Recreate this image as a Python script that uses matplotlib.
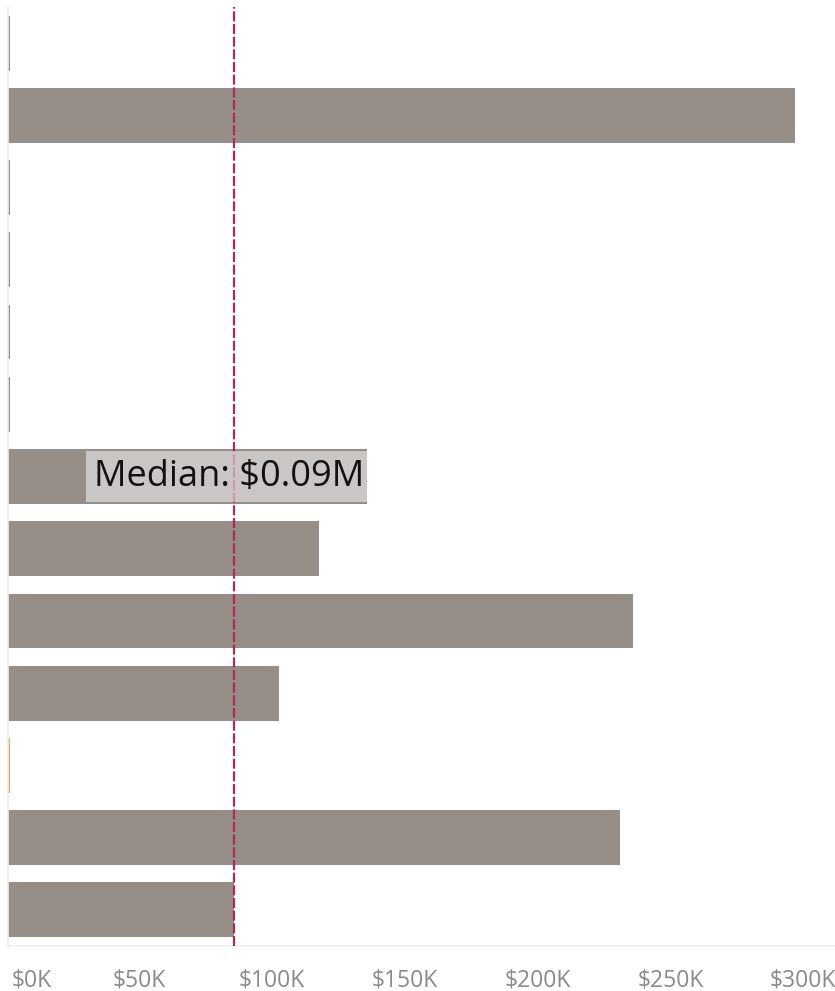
import numpy as np
import matplotlib
matplotlib.use("Agg")
import matplotlib.pyplot as plt
from matplotlib.transforms import ScaledTranslation

# Sales per row, in thousands of dollars (top to bottom)
values_k = [0.6, 296, 0.6, 0.6, 0.6, 0.6, 135, 117, 235, 102, 0.6, 230, 85]
bar_colors = ["#968e87"] * 10 + ["#f0a35e"] + ["#968e87"] * 2
tick_values_k = [0, 50, 100, 150, 200, 250, 300]
tick_labels = ["$0K", "$50K", "$100K", "$150K", "$200K", "$250K", "$300K"]

median_k = float(np.median(values_k))
median_label = f"Median: ${median_k / 1000:.2f}M"

fig = plt.figure(figsize=(8.35, 9.91), dpi=100)
ax = fig.add_axes([8 / 835, 45 / 991, 827 / 835, 939 / 991])

n = len(values_k)
y = np.arange(n)
ax.barh(y, values_k, height=0.76, color=bar_colors, left=0)
ax.set_ylim(n - 0.5, -0.5)
ax.set_xlim(0, 827 / 2.66)

ax.axvline(median_k, color="#b0285e", lw=1.6, ls=(0, (4.5, 1.2)), zorder=3)

ax.text(median_k - 2.0, 6, median_label, ha="center", va="center",
        fontsize=26, color="#111111", family="Open Sans", zorder=4,
        bbox=dict(boxstyle="square,pad=0.22", fc="white", ec="none", alpha=0.5))

ax.set_yticks([])
ax.set_xticks(tick_values_k)
ax.set_xticklabels(tick_labels, fontsize=16.5, color="#8a8a8a", family="Open Sans")
ax.tick_params(axis="x", length=0, pad=16)
labels = ax.get_xticklabels()
labels[0].set_ha("left")
labels[0].set_transform(labels[0].get_transform() + ScaledTranslation(0.04, 0, fig.dpi_scale_trans))
for lab in labels[1:-1]:
    lab.set_transform(lab.get_transform() + ScaledTranslation(-0.02, 0, fig.dpi_scale_trans))
labels[-1].set_ha("right")
labels[-1].set_transform(labels[-1].get_transform() + ScaledTranslation(0.30, 0, fig.dpi_scale_trans))

for side in ("top", "right"):
    ax.spines[side].set_visible(False)
for side in ("left", "bottom"):
    ax.spines[side].set_color("#eeeeee")
    ax.spines[side].set_linewidth(1.2)

fig.savefig("out.png", dpi=100, facecolor="white")
